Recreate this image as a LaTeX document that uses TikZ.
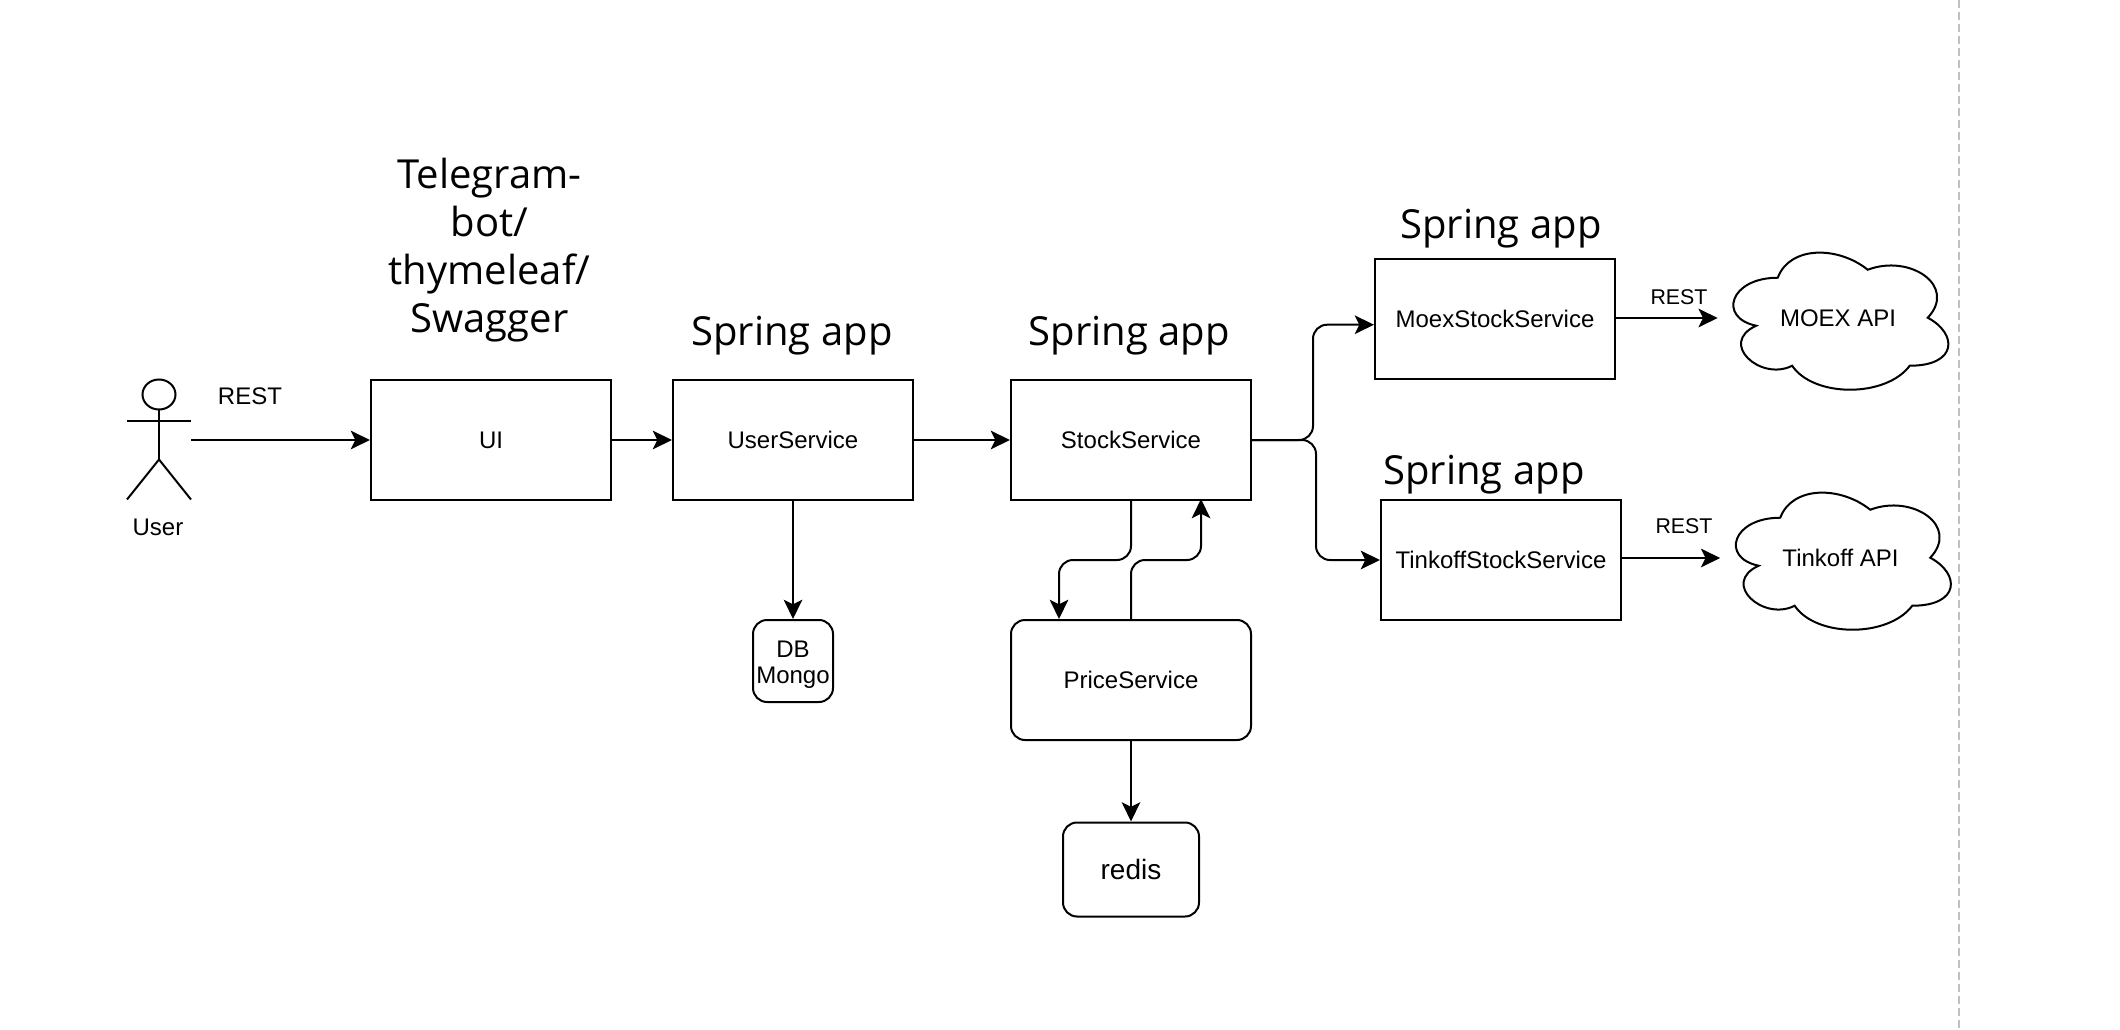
\documentclass[tikz,border=0pt]{standalone}
\usepackage{fontspec}
\usepackage{xcolor}
\usetikzlibrary{calc,arrows.meta}
\setmainfont{Liberation Sans}
\newfontfamily\appfont{Open Sans}
\definecolor{stroke}{HTML}{000000}
\definecolor{pagebreak}{HTML}{C0C0C0}
\tikzset{
  svc/.style={draw=stroke, line width=1.5pt, minimum width=180pt, minimum height=90pt, inner sep=0pt, font=\fontsize{18}{20}\selectfont, align=center},
  soft/.style={svc, rounded corners=10.5pt},
  link/.style={draw=stroke, line width=1.5pt, rounded corners=10.5pt, -{Stealth[length=14.5pt,width=14pt,inset=3.5pt]}},
  line/.style={draw=stroke, line width=1.5pt},
  lab/.style={text=stroke, inner sep=0pt, font=\fontsize{18}{21}\selectfont, align=center},
  labs/.style={lab, font=\fontsize{16}{19}\selectfont},
  apptitle/.style={text=stroke, inner sep=0pt, align=center, font=\appfont\fontsize{30}{36}\selectfont},
  cloudbox/.style={lab, minimum width=180pt, minimum height=120pt},
}
% outline of a 240 x 160 cloud, hung on the corner of its node
\newcommand{\cloudline}[1]{
  \begin{scope}[shift={(#1.north west)}]
    \draw[line] (60,40) .. controls (12,40) and (0,80) .. (38.4,88)
      .. controls (0,105.6) and (43.2,144) .. (74.4,128)
      .. controls (96,160) and (168,160) .. (192,128)
      .. controls (240,128) and (240,96) .. (210,80)
      .. controls (240,48) and (192,16) .. (150,32)
      .. controls (120,8) and (72,8) .. (60,40) -- cycle;
  \end{scope}
}

\begin{document}
\begin{tikzpicture}[x=0.75pt,y=-0.75pt]
  \useasboundingbox (0,0) rectangle (2120,1030);
  % page edge
  \coordinate (edgetop) at (1959,0);
  \coordinate (edgebot) at (1959,1030);
  \draw[pagebreak, line width=1.5pt, dash pattern=on 6pt off 3pt] (edgetop) -- (edgebot);

  % actor
  \draw[line] (159,394.5) ellipse (16.5 and 15);
  \draw[line] (159,409.5) -- (159,459.5);
  \draw[line] (127,421) -- (191,421);
  \draw[line] (127,499.5) -- (159,459.5) -- (191,499.5);
  \coordinate (hand) at (191,440);
  \node[lab] (user) at (158,527) {User};

  % boxes
  \node[svc] (ui) at (491,440) {UI};
  \node[svc] (usersvc) at (793,440) {UserService};
  \node[svc] (stock) at (1131,440) {StockService};
  \node[svc] (moex) at (1495,319.4) {MoexStockService};
  \node[svc] (tinkoff) at (1501,560) {TinkoffStockService};
  \node[soft] (price) at (1131,680) {PriceService};
  \node[soft, minimum width=60pt, minimum height=61.5pt] (mongo) at (793,661) {\rule{0pt}{18pt}DB\\Mongo};
  \node[soft, minimum width=102pt, minimum height=70.5pt, font=\fontsize{21}{24}\selectfont] (redis) at (1131,869.5) {redis};

  % clouds
  \node[cloudbox] (moexapi) at (1838,318) {MOEX API};
  \node[cloudbox] (tinkoffapi) at (1840.5,558) {Tinkoff API};
  \cloudline{moexapi}
  \cloudline{tinkoffapi}

  % titles
  \node[apptitle] (uititle) at (489.5,250) {Telegram-\\bot/\\thymeleaf/\\Swagger};
  \node[apptitle] (usertitle) at (792,336) {Spring app};
  \node[apptitle] (stocktitle) at (1129.5,336) {Spring app};
  \node[apptitle] (moextitle) at (1501,229) {Spring app};
  \node[apptitle] (tinkofftitle) at (1484,475) {Spring app};

  % REST labels
  \node[lab] (restui) at (250,396) {REST};
  \node[labs] (restmoex) at (1679,297) {REST};
  \node[labs] (resttinkoff) at (1684,526) {REST};

  % connectors
  \draw[link] (hand) -- (ui.west);
  \draw[link] (ui.east) -- (usersvc.west);
  \draw[link] (usersvc.east) -- (stock.west);
  \draw[link] (usersvc.south) -- (mongo.north);
  \draw[link] (stock.east) -- (1313,440) |- ([yshift=-4pt]moex.west);
  \draw[link] (stock.east) -- (1316,440) |- (tinkoff.west);
  \draw[link] (stock.south) |- (1059,560) -- ([xshift=-54pt]price.north);
  \draw[link] (price.north) |- (1201,560) -- ([xshift=52.5pt,yshift=1.5pt]stock.south);
  \draw[link] (price.south) -- (redis.north);
  \draw[link] (moex.east |- moexapi.west) -- (moexapi.west);
  \draw[link] (tinkoff.east |- tinkoffapi.west) -- (tinkoffapi.west);
\end{tikzpicture}
\end{document}
